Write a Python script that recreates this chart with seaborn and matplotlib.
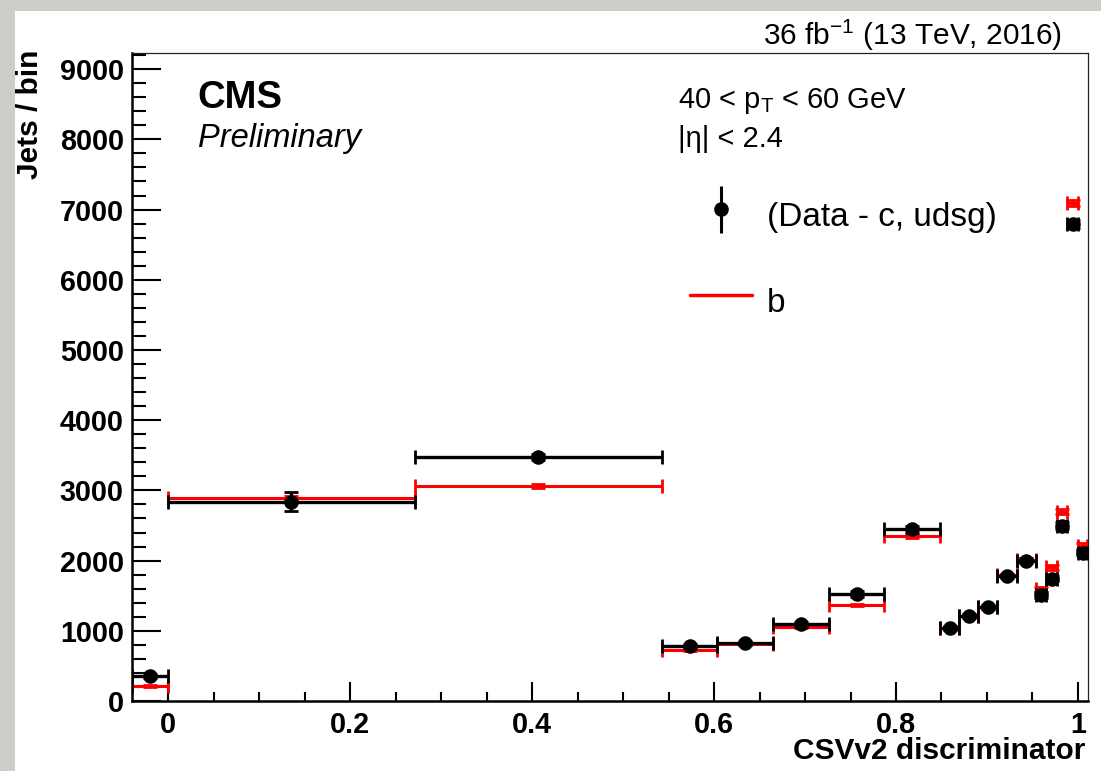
import numpy as np
import pandas as pd
import matplotlib
matplotlib.use("Agg")
import matplotlib.pyplot as plt
import matplotlib.patches as mpatches
from matplotlib.lines import Line2D
from matplotlib.legend_handler import HandlerErrorbar
from matplotlib.ticker import FixedLocator, MultipleLocator
import seaborn as sns

# ---- data ----
bin_edges = [-0.04, 0.0, 0.2713, 0.5426, 0.6038, 0.6649, 0.7261, 0.7873, 0.8484,
             0.8694, 0.8904, 0.9115, 0.9325, 0.9535, 0.9651, 0.9768, 0.9884, 1.0, 1.01]
data_minus_bkg = [356, 2839, 3476, 779, 822, 1090, 1524, 2446, 1035,
                  1211, 1334, 1781, 1999, 1510, 1743, 2493, 6795, 2113]
data_err = [30, 135, 40, 30, 30, 30, 40, 50, 30, 30, 30, 30, 40, 40, 40, 50, 60, 40]
b_mc = [209, 2896, 3063, 726, 815, 1058, 1368, 2350, 1040,
        1215, 1340, 1790, 2010, 1591, 1905, 2697, 7097, 2208]
b_err = [15, 20, 25, 15, 15, 15, 20, 25, 25, 25, 25, 25, 30, 35, 35, 40, 45, 40]

x_ticks = [0, 0.2, 0.4, 0.6, 0.8, 1.0]
x_tick_labels = ["0", "0.2", "0.4", "0.6", "0.8", "1"]
y_ticks = [0, 1000, 2000, 3000, 4000, 5000, 6000, 7000, 8000, 9000]
y_tick_labels = ["0", "1000", "2000", "3000", "4000", "5000", "6000", "7000", "8000", "9000"]

edges = np.array(bin_edges)
centers = 0.5 * (edges[:-1] + edges[1:])
half_w = 0.5 * (edges[1:] - edges[:-1])
df = pd.DataFrame({"x": centers, "data": data_minus_bkg, "b": b_mc})

# ---- style ----
sns.set_style("ticks")
plt.rcParams["font.family"] = ["Liberation Sans", "DejaVu Sans"]
plt.rcParams["mathtext.fontset"] = "custom"
plt.rcParams["mathtext.rm"] = "Liberation Sans"
plt.rcParams["mathtext.it"] = "Liberation Sans:italic"
plt.rcParams["mathtext.bf"] = "Liberation Sans:bold"
for k in ["text.color", "axes.labelcolor", "xtick.color", "ytick.color", "axes.edgecolor"]:
    plt.rcParams[k] = "black"

W, H = 1101, 771
fig = plt.figure(figsize=(W / 100, H / 100), dpi=100, facecolor="#cfcdc8")
# white canvas (screenshot look)
fig.patches.append(mpatches.Rectangle((15 / W, 0), 1 - 15 / W, (H - 11) / H,
                                      transform=fig.transFigure, facecolor="white",
                                      edgecolor="none", zorder=-1))

ax = fig.add_axes([132 / W, 1 - 701 / H, (1088 - 132) / W, (701 - 53) / H])
ax.set_zorder(1)
ax.set_facecolor("white")

# red b histogram
ax.errorbar(df["x"], df["b"], xerr=half_w, yerr=b_err, fmt="none",
            ecolor="#ff0000", elinewidth=2.2, capsize=5, capthick=2.0, zorder=2)
# black data points
ax.errorbar(df["x"], df["data"], xerr=half_w, yerr=data_err, fmt="none",
            ecolor="black", elinewidth=2.4, capsize=5, capthick=2.0, zorder=3)
sns.scatterplot(data=df, x="x", y="data", ax=ax, color="black", s=110,
                edgecolor="black", linewidth=0, zorder=4, legend=False)

ax.set_xlim(-0.0396, 1.011)
ax.set_ylim(0, 9230)

ax.xaxis.set_major_locator(FixedLocator(x_ticks))
ax.set_xticklabels(x_tick_labels, fontweight="bold", fontsize=20.7)
ax.xaxis.set_minor_locator(MultipleLocator(0.05))
ax.yaxis.set_major_locator(FixedLocator(y_ticks))
ax.set_yticklabels(y_tick_labels, fontweight="bold", fontsize=20.7)
ax.yaxis.set_minor_locator(MultipleLocator(200))

ax.tick_params(axis="y", which="major", direction="in", length=21, width=1.5,
               pad=6, left=True, right=False)
ax.tick_params(axis="y", which="minor", direction="in", length=10, width=1.5,
               left=True, right=False)
ax.tick_params(axis="x", which="major", direction="in", length=13.5, width=1.5,
               pad=7, bottom=True, top=False)
ax.tick_params(axis="x", which="minor", direction="in", length=6.5, width=1.5,
               bottom=True, top=False)

for side in ["left", "bottom"]:
    ax.spines[side].set_linewidth(1.8)
    ax.spines[side].set_color("black")
for side in ["top", "right"]:
    ax.spines[side].set_linewidth(0.9)
    ax.spines[side].set_visible(True)
    ax.spines[side].set_color("#222222")

ax.set_xlabel("CSVv2 discriminator", fontweight="bold", fontsize=21.5, loc="right")
ax.xaxis.set_label_coords(0.997, -0.056)
ax.set_ylabel("Jets / bin", fontweight="bold", fontsize=21.5, loc="top")
ax.yaxis.set_label_coords(-0.092, 1.005)

# ---- texts ----
def fx(px):
    return px / W

def fy(py):
    return 1 - py / H

fig.text(fx(197), fy(108), "CMS", fontsize=27.5, fontweight="bold", va="baseline", ha="left")
fig.text(fx(198), fy(147), "Preliminary", fontsize=23.5, style="italic", va="baseline", ha="left")
fig.text(fx(1062), fy(45), r"36 fb$^{\mathregular{-1}}$ (13 TeV, 2016)", fontsize=21.5,
         va="baseline", ha="right")
fig.text(fx(678), fy(108), r"40 < p$_{\mathregular{T}}$ < 60 GeV", fontsize=21,
         va="baseline", ha="left")
fig.text(fx(678), fy(147), "|η| < 2.4", fontsize=21, va="baseline", ha="left")

# ---- legend ----
h_data = ax.errorbar([np.nan], [np.nan], yerr=[1], fmt="o", color="black",
                     markersize=9.5, elinewidth=2.2, capsize=0)
h_b = Line2D([], [], color="#ff0000", linewidth=2.5)
leg = fig.legend([h_data, h_b], ["(Data - c, udsg)", "b"], loc="upper left",
                 bbox_to_anchor=(fx(690), fy(192)), frameon=False, fontsize=24,
                 handlelength=1.85, handletextpad=0.45, labelspacing=1.15,
                 borderpad=0, borderaxespad=0, handleheight=1.8,
                 handler_map={type(h_data): HandlerErrorbar(yerr_size=0.7)})
leg.set_zorder(5)

fig.savefig("out.png", dpi=100, facecolor=fig.get_facecolor())
